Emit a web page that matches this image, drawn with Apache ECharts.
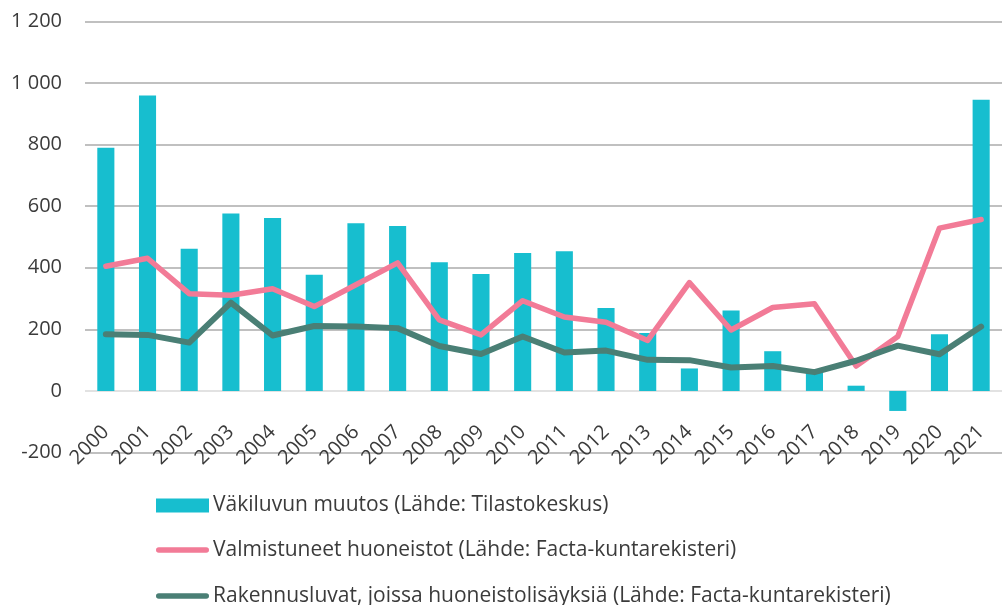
<!DOCTYPE html>
<html>
<head>
<meta charset="utf-8">
<script src="https://cdn.jsdelivr.net/npm/echarts@6/dist/echarts.min.js"></script>
<style>html,body{margin:0;padding:0;background:#fff}#c{width:1002px;height:605px}</style>
</head>
<body>
<div id="c"></div>
<script>
const years = ['2000','2001','2002','2003','2004','2005','2006','2007','2008','2009','2010','2011','2012','2013','2014','2015','2016','2017','2018','2019','2020','2021'];
const vakiluvunMuutos = [790, 960, 462, 576, 562, 377, 545, 536, 418, 380, 448, 454, 269, 188, 73, 261, 129, 65, 17, -65, 184, 946];
const valmistuneet = [405, 431, 316, 311, 332, 274, 345, 416, 231, 182, 293, 240, 223, 164, 352, 198, 271, 283, 81, 177, 529, 557];
const rakennusluvat = [184, 182, 157, 287, 180, 211, 209, 204, 146, 120, 177, 125, 131, 101, 100, 76, 81, 61, 98, 147, 119, 209];
const seriesNames = ['Väkiluvun muutos (Lähde: Tilastokeskus)', 'Valmistuneet huoneistot (Lähde: Facta-kuntarekisteri)', 'Rakennusluvat, joissa huoneistolisäyksiä (Lähde: Facta-kuntarekisteri)'];

const FONT = '"Open Sans", "Liberation Sans", sans-serif';
const TXT = '#3b3b3b';
const chart = echarts.init(document.getElementById('c'), null, {renderer: 'canvas'});
const lineIcon = 'path://M3,0 L54,0 A3,3 0 0 1 54,6 L3,6 A3,3 0 0 1 3,0 Z';
function legendFor(i, icon, top) {
  return {
    orient: 'horizontal', left: 156, top: top, padding: 0,
    itemWidth: 53, itemHeight: 14, itemGap: 0,
    textStyle: {fontFamily: FONT, fontSize: 21, color: TXT, padding: [0,0,0,-1]},
    data: [{name: seriesNames[i], icon: icon}]
  };
}
chart.setOption({
  animation: false,
  textStyle: {fontFamily: FONT},
  grid: {left: 85, right: 0, top: 21.5, bottom: 152.5, containLabel: false},
  legend: [
    legendFor(0, 'rect', 495),
    legendFor(1, lineIcon, 539.5),
    legendFor(2, lineIcon, 585.5)
  ],
  xAxis: {
    type: 'category', data: years,
    offset: -61.5,
    axisTick: {show: false},
    axisLine: {show: false, onZero: false},
    axisLabel: {interval: 0, rotate: 45, margin: 38, fontFamily: FONT, fontSize: 20, color: TXT}
  },
  yAxis: {
    type: 'value', min: -200, max: 1200, interval: 200,
    axisLine: {show: false}, axisTick: {show: false},
    axisLabel: {margin: 23, fontFamily: FONT, fontSize: 20, color: TXT,
      formatter: v => String(v).replace(/\B(?=(\d{3})+(?!\d))/g, ' ')},
    splitLine: {lineStyle: {color: ['#ABABAB','#D9D9D9','#ABABAB','#ABABAB','#ABABAB','#ABABAB','#ABABAB','#ABABAB'], width: 1.5}}
  },
  series: [
    {name: seriesNames[0], type: 'bar', data: vakiluvunMuutos, barWidth: '41%',
      itemStyle: {color: '#17BECF'}},
    {name: seriesNames[1], type: 'line', data: valmistuneet, symbol: 'none',
      lineStyle: {color: '#F27B97', width: 5.5, cap: 'round', join: 'round'}, itemStyle: {color: '#F27B97'}},
    {name: seriesNames[2], type: 'line', data: rakennusluvat, symbol: 'none',
      lineStyle: {color: '#4A7F75', width: 6, cap: 'round', join: 'round'}, itemStyle: {color: '#4A7F75'}}
  ]
});
</script>
</body>
</html>
